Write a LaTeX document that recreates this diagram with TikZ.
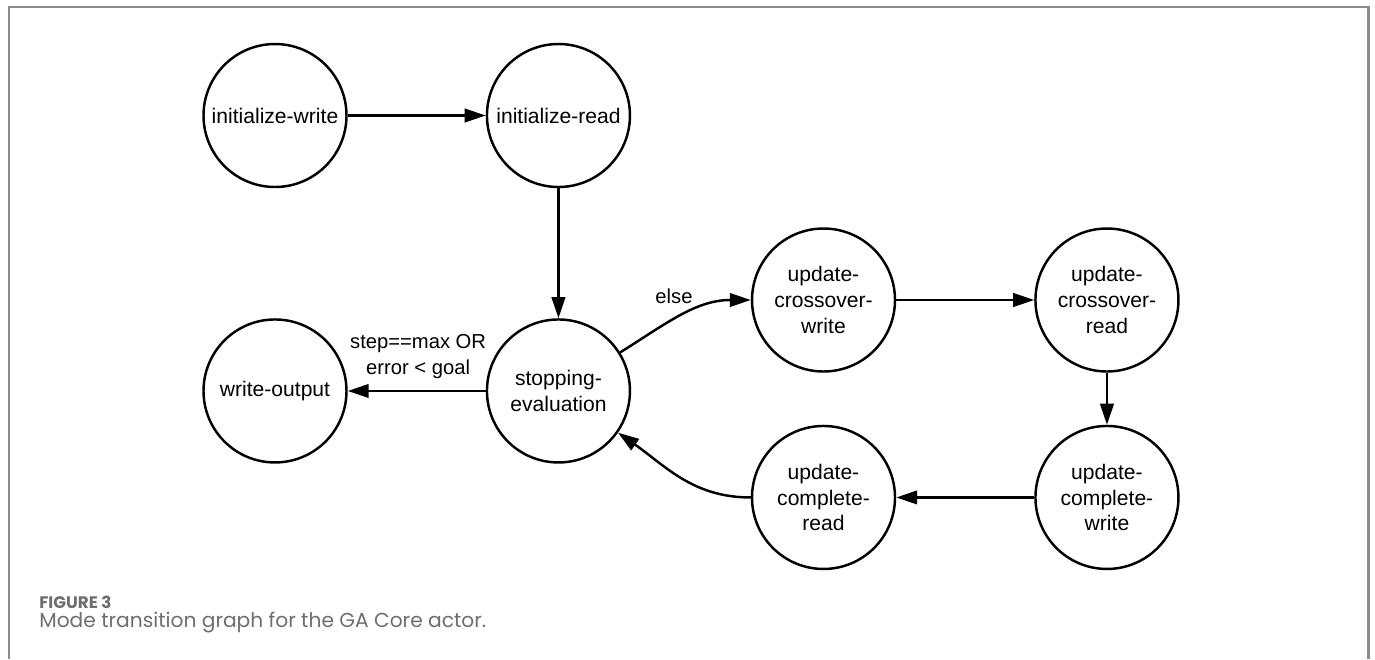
\documentclass[tikz,border=0pt]{standalone}
\usepackage{fontspec}
\setmainfont{Liberation Sans}
\newfontfamily\captionfont{Poppins}
\usepackage{xcolor}
\usepackage{tikz}
\usetikzlibrary{positioning,arrows.meta}
\definecolor{framegray}{HTML}{8C8C8C}
\definecolor{captiongray}{HTML}{6E6E6E}

\begin{document}
\begin{tikzpicture}[
  mode/.style={circle,draw,line width=1.4pt,minimum size=2.86cm,inner sep=0pt,
    align=center,font=\fontsize{12}{14.7}\selectfont},
  trans/.style={line width=1.4pt,-{Triangle[length=0.42cm,width=0.27cm]}},
  lbl/.style={font=\fontsize{11.5}{14.7}\selectfont,align=center,inner sep=1pt},
  caption/.style={anchor=base west,inner sep=0pt,text=captiongray}]
  \useasboundingbox (0,0) rectangle (27.5,-13.18);
  \draw[framegray,line width=1.2pt] (0.18,-13.18) |- (27.37,-0.14) -- (27.37,-13.18);

  \node[mode] (initWrite) at (5.5,-2.31) {initialize-write};
  \node[mode,right=2.76cm of initWrite] (initRead) {initialize-read};
  \node[mode,below=2.6cm of initRead] (stopEval) {stopping-\\evaluation};
  \node[mode,left=2.76cm of stopEval] (writeOut) {write-output};
  \node[mode] (crossWrite) at (16.47,-6.0) {update-\\crossover-\\write};
  \node[mode,right=2.76cm of crossWrite] (crossRead) {update-\\crossover-\\read};
  \node[mode,below=1.04cm of crossRead] (compWrite) {update-\\complete-\\write};
  \node[mode,left=2.76cm of compWrite] (compRead) {update-\\complete-\\read};

  \draw[trans] (initWrite) -- (initRead);
  \draw[trans] (initRead) -- (stopEval);
  \draw[trans] (stopEval) -- node[lbl,above=5.5pt,pos=0.49] {step==max OR\\error < goal} (writeOut);
  \draw[trans] (stopEval.32) to[out=32,in=180] node[lbl,above=7pt,pos=0.43] {else} (crossWrite);
  \draw[trans] (crossWrite) -- (crossRead);
  \draw[trans] (crossRead) -- (compWrite);
  \draw[trans] (compWrite) -- (compRead);
  \draw[trans] (compRead) to[out=180,in=-35] (stopEval.-35);

  \node[caption,font=\captionfont\bfseries\fontsize{9.5}{11}\selectfont] (figLabel) at (0.78,-12.16) {FIGURE 3};
  \node[caption,font=\captionfont\fontsize{11.5}{13}\selectfont] (figText) at (0.78,-12.54) {Mode transition graph for the GA Core actor.};
\end{tikzpicture}
\end{document}
